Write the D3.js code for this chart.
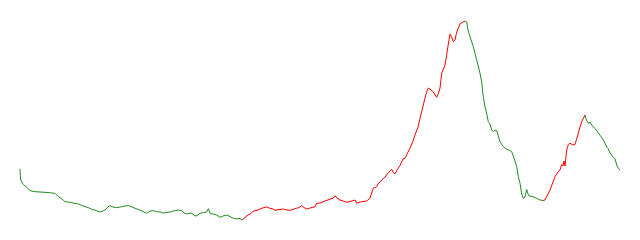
<!DOCTYPE html>
<html>
<head>
<meta charset="utf-8">
<script src="https://cdn.jsdelivr.net/npm/d3@7"></script>
<style>
  body { margin: 0; background: #fff; }
  svg { display: block; }
</style>
</head>
<body>
<div id="chart"></div>
<script>
// series (t = time step, v = value)
const days = [0, 0.5, 1.7, 3.3, 5, 7, 10, 15, 20, 25, 28, 32, 35, 38.3, 42, 45, 48, 51.7, 55, 58.3,
  62, 65, 68, 71.7, 76, 80, 83, 85, 88, 90, 93, 96.7, 101.7, 105, 108.3, 112, 117, 122, 126.7, 130,
  133.3, 136.7, 140, 143.3, 146, 150, 153.3, 156, 158.3, 161.7, 163.3, 166.7, 170, 171.7, 175, 177, 180, 183.3, 186.7, 188.3,
  190, 193, 196.7, 200, 203, 206.7, 210, 213.3, 217, 220, 222,
  225, 228, 231, 233.3, 237, 240, 243.3, 246.7, 250, 253, 255, 259, 263.3, 267, 270, 274, 278.3, 281.7, 284,
  286.7, 290, 295, 296.7, 300, 305, 309, 313.3, 315, 317, 320, 323, 326.7, 330, 335, 336.7, 340, 343, 346.7,
  350, 352, 353.3, 356.7, 358, 361.7, 365, 368.3, 371.7, 373, 375, 377, 380, 383, 385, 388, 390, 393, 395,
  398, 400, 403.3, 405, 407, 408.3, 411, 413.3, 416.7, 418.3, 420, 421.7, 423, 425, 426.7, 428, 430, 432,
  433.3, 435, 436.7, 440, 442, 445,
  446.7, 448, 450, 453.3, 456.7, 460, 461.7, 463, 465, 467, 468.3, 470, 471.7, 473.3, 475, 476.7, 478, 480,
  483.3, 486.7, 489, 491.7, 494, 496.7, 498.3, 500, 501.7, 503.3, 505, 506.7, 508, 509.3, 512, 515, 518, 520, 523,
  525, 528, 530, 533, 535, 538, 540, 541.7, 543, 544, 545, 546.7, 548.3, 550, 553, 555, 558.3, 560, 561.7, 563, 565,
  566, 567, 568.3, 570, 571.7, 575, 578.3, 582, 584, 586.7, 588, 590, 593.3, 595, 596.7, 598.3, 600];

const values = [51, 41, 38, 35.7, 34, 32.5, 29.3, 28.3, 28, 27.7, 27.5, 27, 26.7, 23.3, 21, 18.3, 18, 17.3, 16.5, 16,
  14.5, 13.3, 12.5, 10.7, 9.5, 8, 9, 10, 13, 14.3, 13, 12.3, 13.3, 14, 14.5, 13, 11, 9, 6.7, 9,
  9.3, 8.3, 8, 7, 7.5, 8, 9, 9.5, 10, 9.5, 7.3, 6, 7, 6.7, 4, 4.5, 6.7, 7.3, 8, 11.3,
  6.7, 6, 5, 2.7, 4, 5, 3.5, 1.7, 1.2, 1.5, 0,
  2.5, 5, 6.5, 9, 9.5, 11, 12.3, 13, 11.7, 11, 9.7, 10.5, 11, 10, 9.7, 11, 12.3, 14.3, 12.5,
  11, 12, 13.3, 16.7, 17, 19, 20.5, 22, 24.3, 22, 20, 19, 17.7, 18.5, 20, 16.7, 18, 18.5, 19,
  21.7, 28, 31.7, 33.3, 36, 40, 43, 47.3, 50.7, 48, 46, 50, 54.5, 61, 61.7, 68, 71.7, 79, 85,
  93, 101.7, 115, 122, 129, 132, 130, 128, 122.7, 126, 132, 146.7, 150, 155, 165, 174, 186, 182,
  178.3, 180, 188, 196, 197.5, 199,
  198, 190, 183.3, 173.3, 160, 146.7, 138, 125, 113.3, 105, 98.3, 96, 90, 88.3, 90, 89.5, 85, 78.3,
  73.3, 70.7, 70, 68.3, 62, 53.3, 43.3, 36.7, 26, 21.7, 23, 30.5, 26, 24, 23.5, 22.5, 21, 20, 19.5,
  20, 26, 30, 38, 43.3, 48, 50, 55.5, 54, 59, 54, 70, 75.5, 76.7, 75, 75.5, 86.7, 93, 98.3, 101, 105,
  101, 99, 96.7, 98, 95, 91.5, 87, 82, 79, 73, 71.5, 67, 62.5, 61.5, 55, 51.7, 50];

// trend regimes between turning points
const turns = [0, 222, 445, 523, 565, 600];
const trends = ['down', 'up', 'down', 'up', 'down'];

const width = 640;
const height = 240;
const colors = { up: '#ff0000', down: '#228b22' };

const data = days.map((t, i) => ({ t, v: values[i] }));

const x = d3.scaleLinear().domain([0, 600]).range([20, 620]);
const y = d3.scaleLinear().domain([0, 200]).range([220, 20]);

const line = d3.line()
  .x(d => x(d.t))
  .y(d => y(d.v));

const svg = d3.select('#chart')
  .append('svg')
  .attr('width', width)
  .attr('height', height);

const segments = trends.map((trend, i) => ({
  trend,
  points: data.filter(d => d.t >= turns[i] && d.t <= turns[i + 1]),
}));

svg.append('g')
  .selectAll('path')
  .data(segments)
  .enter()
  .append('path')
  .attr('class', d => `seg ${d.trend}`)
  .attr('d', d => line(d.points))
  .attr('fill', 'none')
  .attr('stroke', d => colors[d.trend])
  .attr('stroke-width', 1);
</script>
</body>
</html>
